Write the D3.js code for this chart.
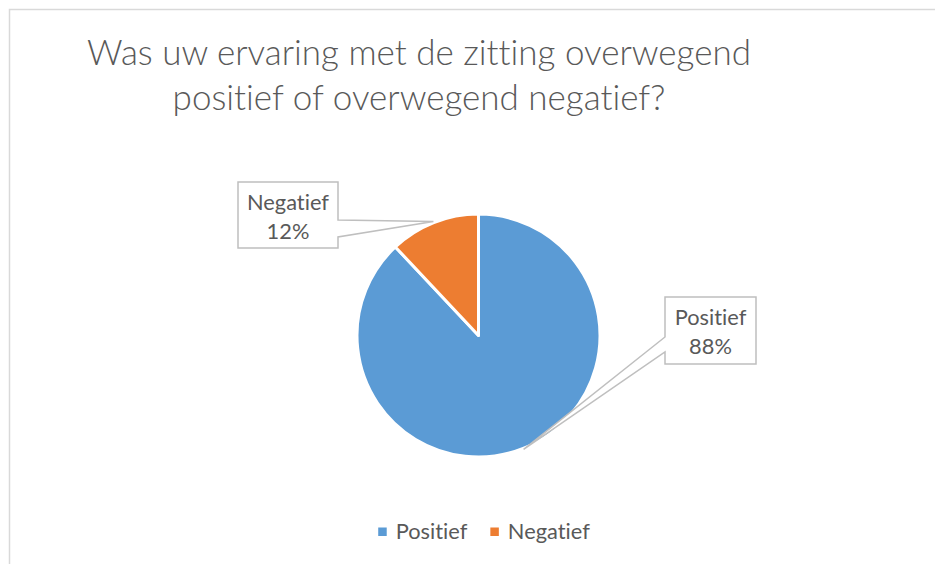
<!DOCTYPE html>
<html>
<head>
<meta charset="utf-8">
<script src="https://cdn.jsdelivr.net/npm/d3@7"></script>
<style>
  body { margin: 0; background: #fff; }
  text { font-family: Lato, "Open Sans", sans-serif; fill: #595959; font-variant-ligatures: none; font-feature-settings: "liga" 0, "dlig" 0; }
</style>
</head>
<body>
<svg id="chart"></svg>
<script>
const categories = ["Positief", "Negatief"];
const values = [88, 12];
const colors = ["#5B9BD5", "#ED7D31"];
const titleLines = ["Was uw ervaring met de zitting overwegend", "positief of overwegend negatief?"];

const width = 935, height = 564;
const cx = 478.5, cy = 335.5, radius = 121.5;

// label boxes (layout only)
const boxes = {
  Positief: { x: 665, y: 297, w: 91, h: 67, side: "left", b1: 40, b2: 55 },
  Negatief: { x: 238, y: 182, w: 100, h: 66, side: "right", b1: 38, b2: 55 }
};

const svg = d3.select("#chart")
  .attr("width", width)
  .attr("height", height);

svg.append("rect")
  .attr("x", 9.5).attr("y", 9.5)
  .attr("width", width).attr("height", height)
  .attr("fill", "#fff")
  .attr("stroke", "#D9D9D9")
  .attr("stroke-width", 1.5);

// scale a text element's font size so it spans the given width
function fitSize(sel, target) {
  sel.style("font-size", "100px");
  const w = sel.node().getComputedTextLength();
  return 100 * target / w;
}

// title
const t1 = svg.append("text").attr("x", 419).attr("y", 65)
  .attr("text-anchor", "middle").style("font-weight", 300).text(titleLines[0]);
const titleSize = fitSize(t1, 664);
t1.style("font-size", titleSize + "px");
svg.append("text").attr("x", 419).attr("y", 110)
  .attr("text-anchor", "middle").style("font-weight", 300)
  .style("font-size", titleSize + "px").text(titleLines[1]);

const total = d3.sum(values);
const data = categories.map((c, i) => ({ name: c, value: values[i], color: colors[i] }));

const pie = d3.pie().sort(null).value(d => d.value);
const arc = d3.arc().innerRadius(0).outerRadius(radius);

const g = svg.append("g").attr("transform", `translate(${cx},${cy})`);

g.selectAll("path.slice")
  .data(pie(data))
  .enter()
  .append("path")
  .attr("class", "slice")
  .attr("d", arc)
  .attr("fill", d => d.data.color)
  .attr("stroke", "#fff")
  .attr("stroke-width", 3)
  .attr("stroke-linejoin", "round");

// measure label font size
const probe = svg.append("text").text("Negatief");
const labelSize = fitSize(probe, 82);
probe.remove();

function calloutPath(b, tip) {
  const { x, y, w, h } = b;
  if (b.side === "right") {
    return `M${x},${y}H${x + w}V${y + b.b1}L${tip[0]},${tip[1]}L${x + w},${y + b.b2}V${y + h}H${x}Z`;
  }
  return `M${x},${y}H${x + w}V${y + h}H${x}V${y + b.b2}L${tip[0]},${tip[1]}L${x},${y + b.b1}Z`;
}

pie(data).forEach(d => {
  const b = boxes[d.data.name];
  const mid = (d.startAngle + d.endAngle) / 2;
  const tr = radius + 1;
  const tip = [cx + tr * Math.sin(mid), cy - tr * Math.cos(mid)];
  svg.append("path")
    .attr("d", calloutPath(b, tip))
    .attr("fill", "#fff")
    .attr("stroke", "#BFBFBF")
    .attr("stroke-width", 1.5);
  const tx = b.x + b.w / 2;
  svg.append("text").attr("x", tx).attr("y", b.y + 28)
    .attr("text-anchor", "middle").style("font-size", labelSize + "px")
    .text(d.data.name);
  svg.append("text").attr("x", tx).attr("y", b.y + 57)
    .attr("text-anchor", "middle").style("font-size", labelSize + "px")
    .text(d3.format(".0%")(d.data.value / total));
});

// legend
const legend = svg.append("g");
const items = legend.selectAll("g")
  .data(data)
  .enter()
  .append("g");
items.append("rect")
  .attr("width", 8.5).attr("height", 8.5)
  .attr("y", 527.5)
  .attr("fill", d => d.color);
items.append("text")
  .attr("y", 539)
  .style("font-size", labelSize + "px")
  .text(d => d.name);

let widths = [];
items.select("text").each(function () { widths.push(this.getComputedTextLength()); });
const sq = 8.5, gapIn = 9, gapOut = 23;
const totalW = d3.sum(widths, w => sq + gapIn + w) + gapOut * (widths.length - 1);
let xpos = 484 - totalW / 2;
items.each(function (d, i) {
  const it = d3.select(this);
  it.select("rect").attr("x", xpos);
  it.select("text").attr("x", xpos + sq + gapIn);
  xpos += sq + gapIn + widths[i] + gapOut;
});
</script>
</body>
</html>
